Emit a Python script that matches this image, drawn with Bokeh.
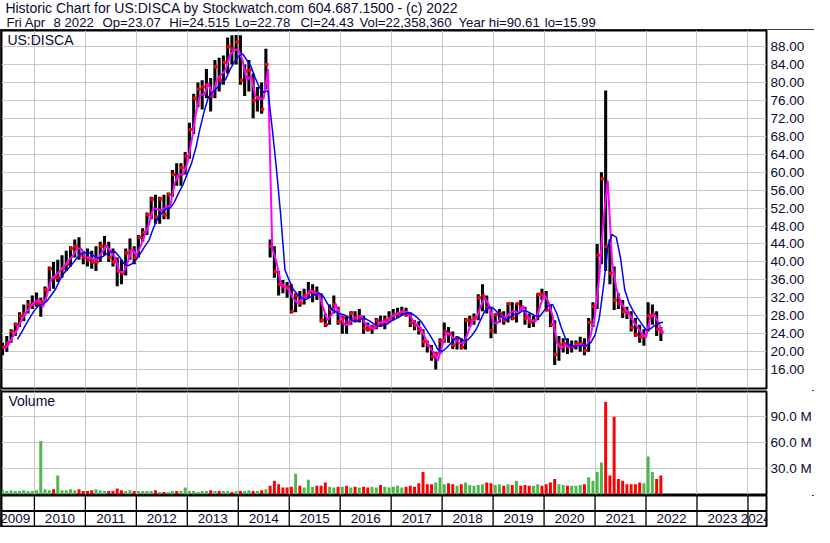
import numpy as np
import pandas as pd
from bokeh.plotting import figure
from bokeh.models import (Range1d, FixedTicker, LinearAxis, Grid, NumeralTickFormatter,
                          CustomJSTickFormatter, Label)
from bokeh.layouts import column
from bokeh.embed import file_html
from bokeh.resources import INLINE
from bokeh.core.properties import value

# ---------------- data (monthly) ----------------
first_month = "2009-05"
last_month = "2022-04"

high = [
    22.0, 23.5, 25.0, 26.5, 28.8, 30.5, 31.5, 32.5,                          # 2009 May-Dec
    33.2, 32.0, 34.5, 39.0, 40.0, 40.5, 41.5, 42.5, 43.5, 45.0, 45.5, 42.5,  # 2010
    43.0, 42.5, 43.5, 44.5, 45.8, 44.5, 43.0, 41.0, 40.5, 43.0, 45.2, 43.5,  # 2011
    46.0, 47.5, 51.0, 54.5, 55.0, 54.5, 55.0, 55.5, 60.5, 62.0, 62.0, 64.5,  # 2012
    71.0, 77.5, 80.0, 80.5, 83.0, 81.0, 85.0, 85.5, 86.0, 90.0, 90.5, 90.6,  # 2013
    90.5, 84.0, 85.0, 82.0, 79.0, 80.0, 87.5, 45.0, 43.5, 38.0, 36.0, 35.5,  # 2014
    35.0, 33.0, 33.5, 34.0, 35.5, 35.0, 34.5, 33.0, 28.5, 30.5, 32.5, 30.0,  # 2015
    28.0, 28.0, 29.0, 29.0, 29.5, 28.0, 26.5, 26.0, 27.5, 28.0, 28.0, 29.0,  # 2016
    29.5, 29.8, 30.0, 29.8, 28.8, 27.0, 26.8, 25.0, 22.5, 21.5, 20.0, 23.0,  # 2017
    26.5, 25.5, 24.5, 23.5, 23.0, 27.5, 28.0, 28.5, 32.8, 35.0, 32.5, 30.0,  # 2018
    28.5, 29.5, 29.0, 31.0, 31.0, 30.8, 31.5, 30.0, 28.5, 28.0, 33.0, 34.0,  # 2019
    33.5, 30.5, 27.0, 23.5, 23.0, 23.0, 22.5, 22.5, 23.3, 23.0, 27.5, 31.0,  # 2020
    44.0, 60.0, 78.2, 45.0, 39.0, 33.0, 31.5, 30.0, 29.0, 27.5, 26.0, 25.0,  # 2021
    31.0, 30.5, 29.0, 25.5,                                                  # 2022 Jan-Apr
]
low = [
    19.2, 20.0, 22.0, 23.5, 25.5, 26.8, 28.5, 29.5,
    30.0, 27.8, 31.0, 33.5, 34.0, 35.5, 36.5, 38.0, 39.0, 41.0, 40.5, 39.5,
    39.0, 38.5, 38.0, 40.0, 41.5, 40.0, 39.0, 34.6, 35.0, 37.0, 40.5, 39.5,
    41.0, 44.5, 46.0, 49.5, 48.5, 48.5, 49.5, 49.5, 54.5, 57.0, 57.0, 59.5,
    63.0, 68.5, 74.5, 74.0, 76.5, 73.5, 76.5, 78.0, 79.5, 82.0, 84.0, 84.0,
    79.5, 77.0, 78.0, 72.0, 73.5, 73.0, 78.5, 41.0, 36.5, 32.5, 33.0, 32.0,
    28.5, 28.8, 30.0, 30.5, 32.0, 31.0, 31.5, 26.5, 25.5, 26.0, 28.5, 26.0,
    24.0, 24.0, 26.0, 26.5, 26.5, 24.0, 24.5, 24.0, 25.0, 25.5, 25.0, 26.5,
    27.0, 27.5, 28.0, 27.8, 25.5, 24.8, 23.8, 21.0, 19.8, 18.0, 16.0, 19.5,
    22.0, 22.0, 20.6, 20.5, 20.5, 20.5, 25.5, 26.0, 27.0, 29.0, 28.5, 23.0,
    24.0, 26.5, 26.0, 26.5, 27.0, 26.5, 29.0, 26.0, 25.3, 25.5, 27.0, 31.5,
    29.0, 25.5, 17.0, 18.0, 19.8, 19.5, 19.8, 20.5, 20.0, 19.2, 20.0, 25.5,
    29.5, 39.5, 38.0, 35.0, 29.3, 29.5, 27.5, 27.3, 24.5, 23.3, 22.0, 21.3,
    24.5, 26.0, 23.5, 22.4,
]
close = [
    21.0, 22.0, 24.5, 26.0, 28.0, 28.5, 30.5, 30.7,
    30.8, 31.2, 33.8, 38.5, 36.5, 36.5, 38.5, 39.5, 43.0, 43.5, 41.5, 41.0,
    40.5, 40.0, 40.0, 43.5, 43.5, 41.0, 40.0, 38.0, 37.5, 42.0, 42.5, 41.0,
    45.5, 46.5, 50.5, 54.0, 50.0, 54.0, 50.5, 55.0, 59.5, 59.0, 61.0, 63.5,
    69.5, 76.5, 78.5, 79.0, 79.5, 77.0, 83.5, 80.5, 84.5, 88.0, 87.5, 89.0,
    80.5, 82.5, 82.7, 76.0, 76.5, 74.0, 84.0, 43.5, 37.8, 35.0, 34.5, 34.4,
    29.0, 32.5, 30.8, 32.5, 33.3, 33.3, 33.0, 27.0, 26.0, 29.5, 30.5, 26.7,
    27.5, 26.5, 28.6, 27.0, 27.5, 25.2, 25.0, 25.5, 26.9, 26.0, 27.0, 27.4,
    28.3, 28.4, 29.0, 28.3, 26.4, 25.9, 24.8, 22.2, 21.3, 18.9, 19.5, 22.4,
    24.5, 24.0, 21.5, 23.0, 21.0, 27.0, 27.0, 27.5, 32.0, 32.4, 29.8, 24.7,
    28.3, 28.5, 27.0, 30.7, 27.5, 30.7, 29.9, 27.5, 26.6, 26.9, 32.8, 32.7,
    29.3, 26.0, 19.4, 21.6, 21.8, 21.1, 21.1, 21.8, 21.8, 20.2, 26.5, 30.1,
    41.5, 58.5, 43.5, 37.5, 31.5, 30.7, 28.9, 28.7, 25.4, 23.8, 23.3, 23.5,
    28.0, 28.3, 25.0, 24.43,
]
volume_m = [
    5, 4, 5, 4, 4, 5, 4, 4,
    5, 62, 6, 5, 6, 22, 5, 5, 6, 5, 6, 4,
    4, 5, 6, 5, 4, 4, 4, 7, 5, 4, 5, 4,
    4, 4, 4, 4, 5, 3, 3, 3, 4, 4, 4, 8,
    4, 4, 3, 4, 4, 5, 4, 4, 4, 4, 3, 4,
    4, 4, 5, 4, 4, 5, 6, 10, 16, 12, 8, 8,
    9, 24, 10, 8, 17, 9, 10, 10, 14, 9, 8, 9,
    9, 10, 8, 9, 8, 9, 8, 9, 8, 11, 9, 8,
    9, 10, 8, 9, 10, 9, 13, 26, 12, 12, 14, 20,
    12, 13, 12, 10, 12, 14, 11, 10, 11, 12, 14, 13,
    11, 12, 10, 12, 11, 16, 10, 11, 10, 10, 12, 10,
    12, 14, 18, 12, 11, 10, 10, 10, 11, 12, 20, 16,
    26, 37, 107, 22, 90, 18, 16, 12, 12, 12, 14, 13,
    44, 26, 18, 22,
]

price_ticks = list(range(16, 89, 4))
volume_ticks = [30, 60, 90]
year_lines = list(range(2010, 2025))
year_labels = [str(y) for y in range(2009, 2025)]

title_line = "Historic Chart for US:DISCA by Stockwatch.com 604.687.1500 - (c) 2022"
quote_items = ["Fri Apr", "8 2022", "Op=23.07", "Hi=24.515", "Lo=22.78", "Cl=24.43",
               "Vol=22,358,360", "Year hi=90.61", "lo=15.99"]
symbol = "US:DISCA"

# ---------------- derived ----------------
months = pd.period_range(first_month, last_month, freq="M")
t_mid = np.asarray(months.year + (months.month - 0.5) / 12.0, dtype=float)
t_end = np.asarray(months.year + months.month / 12.0, dtype=float)
H = np.array(high); L = np.array(low); C = np.array(close)
mid = (H + L) / 2.0
ma_short = mid
ma_long = pd.Series(mid).rolling(4).mean().to_numpy()
prev = np.concatenate([[C[0]], C[:-1]])
vol_colors = ["#4db84d" if c >= p else "#ff0000" for c, p in zip(C, prev)]

# ---------------- style ----------------
FONT = "Liberation Sans"
TXT = "#0a0a32"
GRID = "#c8c8c8"
FS_AX = "13.5px"
FS_T1 = "14px"
FS_T2 = "13.2px"
FS_LBL = "14px"
W = 814
RB = 48
XR = Range1d(2009.3545, 2024.364)


def panel(h, yr, bt, bb):
    p = figure(width=W, height=h, x_range=XR, y_range=yr, output_backend="svg",
               toolbar_location=None, x_axis_location=None, y_axis_location=None,
               min_border_left=1, min_border_right=RB, min_border_top=bt, min_border_bottom=bb)
    p.xgrid.visible = False
    p.ygrid.visible = False
    p.outline_line_color = "black"
    p.outline_line_width = 2
    p.background_fill_color = "white"
    p.border_fill_color = "white"
    p.add_layout(Grid(dimension=0, ticker=FixedTicker(ticks=year_lines),
                      grid_line_color=GRID, grid_line_width=1))
    return p


def right_axis(ticks, fmt):
    return LinearAxis(ticker=FixedTicker(ticks=ticks), formatter=fmt,
                      axis_line_color=None, major_tick_line_color=None,
                      minor_tick_line_color=None, major_tick_out=0, major_tick_in=0,
                      major_label_standoff=4, major_label_text_font=FONT,
                      major_label_text_font_size=FS_AX, major_label_text_color=TXT)


# header
hdr = figure(width=W, height=29, x_range=Range1d(0, W), y_range=Range1d(0, 29),
             output_backend="svg", toolbar_location=None, x_axis_location=None,
             y_axis_location=None, min_border=0)
hdr.xgrid.visible = False
hdr.ygrid.visible = False
hdr.outline_line_color = None
hdr.text(x=[4.9], y=[21.4], text=[title_line], text_font=value(FONT), text_font_size=FS_T1,
         text_color=TXT, text_baseline="middle", text_align="left")
quote_x = [5.9, 53.0, 102.0, 168.7, 234.4, 300.1, 359.0, 458.0, 544.3]
hdr.text(x=quote_x, y=[7.4] * len(quote_items), text=quote_items, text_font=value(FONT),
         text_font_size=FS_T2, text_color=TXT, text_baseline="middle", text_align="left")

# price panel
p = panel(361, Range1d(11.79, 91.58), 1, 2)
p.add_layout(Grid(dimension=1, ticker=FixedTicker(ticks=price_ticks),
                  grid_line_color=GRID, grid_line_width=1))
p.add_layout(right_axis(price_ticks, NumeralTickFormatter(format="0.00")), "right")
p.vbar(x=t_mid, width=0.72 / 12.0, top=H, bottom=L, fill_color="black", line_color=None)
p.scatter(x=t_mid + 0.22 / 12.0, y=C, marker="square", size=2.5, color="#ff0000")
p.line(t_end, ma_short, line_color="#ff00ff", line_width=2)
p.line(t_end, ma_long, line_color="#0000ff", line_width=1.5)
p.add_layout(Label(x=2009.47, y=89.4, text=symbol, text_font=FONT, text_font_size=FS_LBL,
                   text_color=TXT, text_baseline="middle", text_align="left"))

# volume panel
v = panel(105, Range1d(0, 119.2), 1, 1)
v.add_layout(Grid(dimension=1, ticker=FixedTicker(ticks=volume_ticks),
                  grid_line_color=GRID, grid_line_width=1))
v.add_layout(right_axis(volume_ticks, CustomJSTickFormatter(code="return tick.toFixed(1) + ' M';")), "right")
v.vbar(x=t_mid, width=0.7 / 12.0, top=volume_m, bottom=0, fill_color=vol_colors, line_color=None)
v.add_layout(Label(x=2009.49, y=108.3, text="Volume", text_font=FONT, text_font_size=FS_LBL,
                   text_color=TXT, text_baseline="middle", text_align="left"))

# year strip
ys = panel(32, Range1d(0, 2), 0, 1)
ys.center = [r for r in ys.center if not isinstance(r, Grid)]
ys.segment(x0=year_lines, y0=[0] * len(year_lines), x1=year_lines, y1=[2] * len(year_lines),
           line_color="black", line_width=1.3)
ys.segment(x0=[XR.start], y0=[1], x1=[XR.end], y1=[1], line_color="black", line_width=2)
label_x = [2009.624] + [y + 0.5 for y in range(2010, 2024)] + [2024.152]
ys.text(x=label_x, y=[0.5] * len(label_x), text=year_labels, text_font=value(FONT),
        text_font_size=FS_AX, text_color=TXT, text_baseline="middle", text_align="center")

body = column(p, v, ys, styles={"outline": "2px solid black", "outline-offset": "-2px"})
page = column(hdr, body)

open("out.html", "w").write(file_html(page, INLINE))
